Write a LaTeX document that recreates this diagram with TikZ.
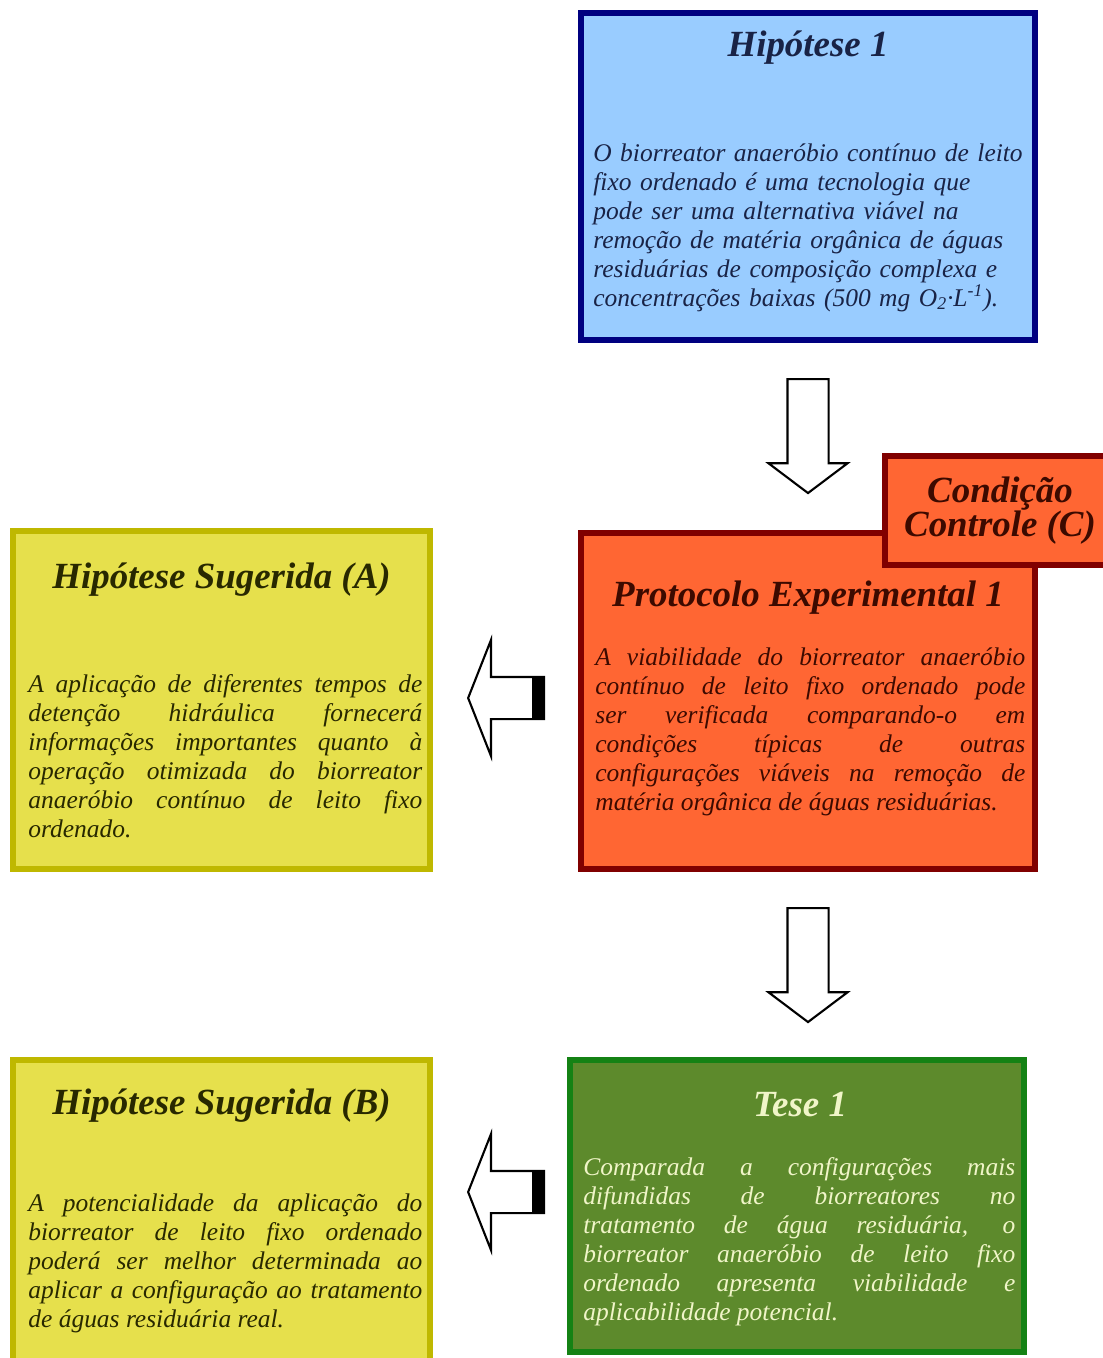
\documentclass[tikz,border=0pt]{standalone}
\usepackage{fontspec}
\setmainfont{Liberation Serif}
\usepackage{tikz}
\usetikzlibrary{shapes,positioning}
\definecolor{hypblue}{RGB}{153,204,255}
\definecolor{hypnavy}{RGB}{0,0,128}
\definecolor{hyptext}{RGB}{25,35,70}
\definecolor{protorange}{RGB}{255,102,51}
\definecolor{protred}{RGB}{128,0,0}
\definecolor{prottext}{RGB}{60,10,0}
\definecolor{sugyellow}{RGB}{230,224,76}
\definecolor{sugolive}{RGB}{191,184,0}
\definecolor{sugtext}{RGB}{40,40,0}
\definecolor{tesegreen}{RGB}{93,138,44}
\definecolor{teseborder}{RGB}{20,130,20}
\definecolor{tesetext}{RGB}{240,245,200}
\hyphenpenalty=10000
\exhyphenpenalty=10000
\tikzstyle{panel} = [rectangle, line width=3.4pt, inner sep=0pt, outer sep=0pt]
\tikzstyle{paneltitle} = [font=\fontsize{21}{24}\selectfont\bfseries\itshape, inner sep=0pt]
\tikzstyle{paneltext} = [font=\fontsize{14.5}{16.5}\selectfont\itshape, inner sep=0pt, anchor=north west, align=justify]
\tikzstyle{downarrow} = [single arrow, draw=black, fill=white, line width=1.2pt, shape border rotate=270, minimum height=2.28cm, minimum width=1.54cm, single arrow head extend=0.38cm, single arrow tip angle=106, inner sep=0.39cm]
\tikzstyle{leftarrow} = [single arrow, draw=black, fill=white, line width=1.2pt, shape border rotate=180, minimum height=1.52cm, minimum width=2.28cm, single arrow head extend=0.74cm, single arrow tip angle=137, inner sep=0.4cm]
\begin{document}
\begin{tikzpicture}
\useasboundingbox[fill=white] (0,0) rectangle (22.06,-27.16);
% Boxes
\node (hyp1) [panel, draw=hypnavy, fill=hypblue, minimum width=9.08cm, minimum height=6.54cm] at (16.16,-3.53) {};
\node (prot) [panel, draw=protred, fill=protorange, minimum width=9.08cm, minimum height=6.72cm] at (16.16,-14.02) {};
\node (cond) [panel, draw=protred, fill=protorange, minimum width=4.6cm, minimum height=2.18cm, paneltitle, text=prottext, align=center, font=\fontsize{21}{19.5}\selectfont\bfseries\itshape] at (20.0,-10.21) {Condição\\Controle (C)};
\node (sugA) [panel, draw=sugolive, fill=sugyellow, minimum width=8.34cm, minimum height=6.76cm] at (4.43,-14.0) {};
\node (sugB) [panel, draw=sugolive, fill=sugyellow, minimum width=8.34cm, minimum height=6.2cm] at (4.43,-24.3) {};
\node (tese) [panel, draw=teseborder, fill=tesegreen, minimum width=9.08cm, minimum height=5.84cm] at (15.94,-24.12) {};

% Titles
\node (hyp1title) [paneltitle, text=hyptext] at ([yshift=-0.7cm]hyp1.north) {Hipótese 1};
\node (prottitle) [paneltitle, text=prottext] at ([yshift=-1.3cm]prot.north) {Protocolo Experimental 1};
\node (sugAtitle) [paneltitle, text=sugtext] at ([yshift=-0.98cm]sugA.north) {Hipótese Sugerida (A)};
\node (sugBtitle) [paneltitle, text=sugtext] at ([yshift=-0.92cm]sugB.north) {Hipótese Sugerida (B)};
\node (tesetitle) [paneltitle, text=tesetext] at ([xshift=0.06cm,yshift=-0.88cm]tese.north) {Tese 1};

% Texts
\node (hyp1text) [paneltext, text=hyptext, text width=9.0cm, align=left] at ([xshift=0.24cm,yshift=-2.6cm]hyp1.north west) {O biorreator anaeróbio contínuo de leito\\ fixo ordenado é uma tecnologia que\\ pode ser uma alternativa viável na\\ remoção de matéria orgânica de águas\\ residuárias de composição complexa e\\ concentrações baixas (500 mg O\textsubscript{2}·L\textsuperscript{-1}).};
\node (prottext) [paneltext, text=prottext, text width=8.6cm] at ([xshift=0.28cm,yshift=-2.28cm]prot.north west) {A viabilidade do biorreator anaeróbio \linebreak contínuo de leito fixo ordenado pode \linebreak ser verificada comparando-o em \linebreak condições típicas de outras \linebreak configurações viáveis na remoção de \linebreak matéria orgânica de águas residuárias.};
\node (sugAtext) [paneltext, text=sugtext, text width=7.88cm] at ([xshift=0.3cm,yshift=-2.86cm]sugA.north west) {A aplicação de diferentes tempos de \linebreak detenção hidráulica fornecerá \linebreak informações importantes quanto à \linebreak operação otimizada do biorreator \linebreak anaeróbio contínuo de leito fixo \linebreak ordenado.};
\node (sugBtext) [paneltext, text=sugtext, text width=7.88cm] at ([xshift=0.3cm,yshift=-2.66cm]sugB.north west) {A potencialidade da aplicação do \linebreak biorreator de leito fixo ordenado \linebreak poderá ser melhor determinada ao \linebreak aplicar a configuração ao tratamento \linebreak de águas residuária real.};
\node (tesetext) [paneltext, text=tesetext, text width=8.64cm] at ([xshift=0.26cm,yshift=-1.94cm]tese.north west) {Comparada a configurações mais \linebreak difundidas de biorreatores no \linebreak tratamento de água residuária, o \linebreak biorreator anaeróbio de leito fixo \linebreak ordenado apresenta viabilidade e \linebreak aplicabilidade potencial.};

% Arrows
\node (down1) [downarrow, anchor=tail] at ([yshift=-0.76cm]hyp1.south) {};
\node (down2) [downarrow, anchor=tail] at ([yshift=-0.76cm]prot.south) {};
\node (leftA) [leftarrow, anchor=tip] at ([xshift=0.74cm,yshift=0.04cm]sugA.east) {};
\node (leftB) [leftarrow, anchor=tip] at ([xshift=0.74cm,yshift=0.46cm]sugB.east) {};
\fill[black] (leftA.before tail) rectangle ([xshift=-0.26cm]leftA.after tail);
\fill[black] (leftB.before tail) rectangle ([xshift=-0.26cm]leftB.after tail);
\end{tikzpicture}
\end{document}
